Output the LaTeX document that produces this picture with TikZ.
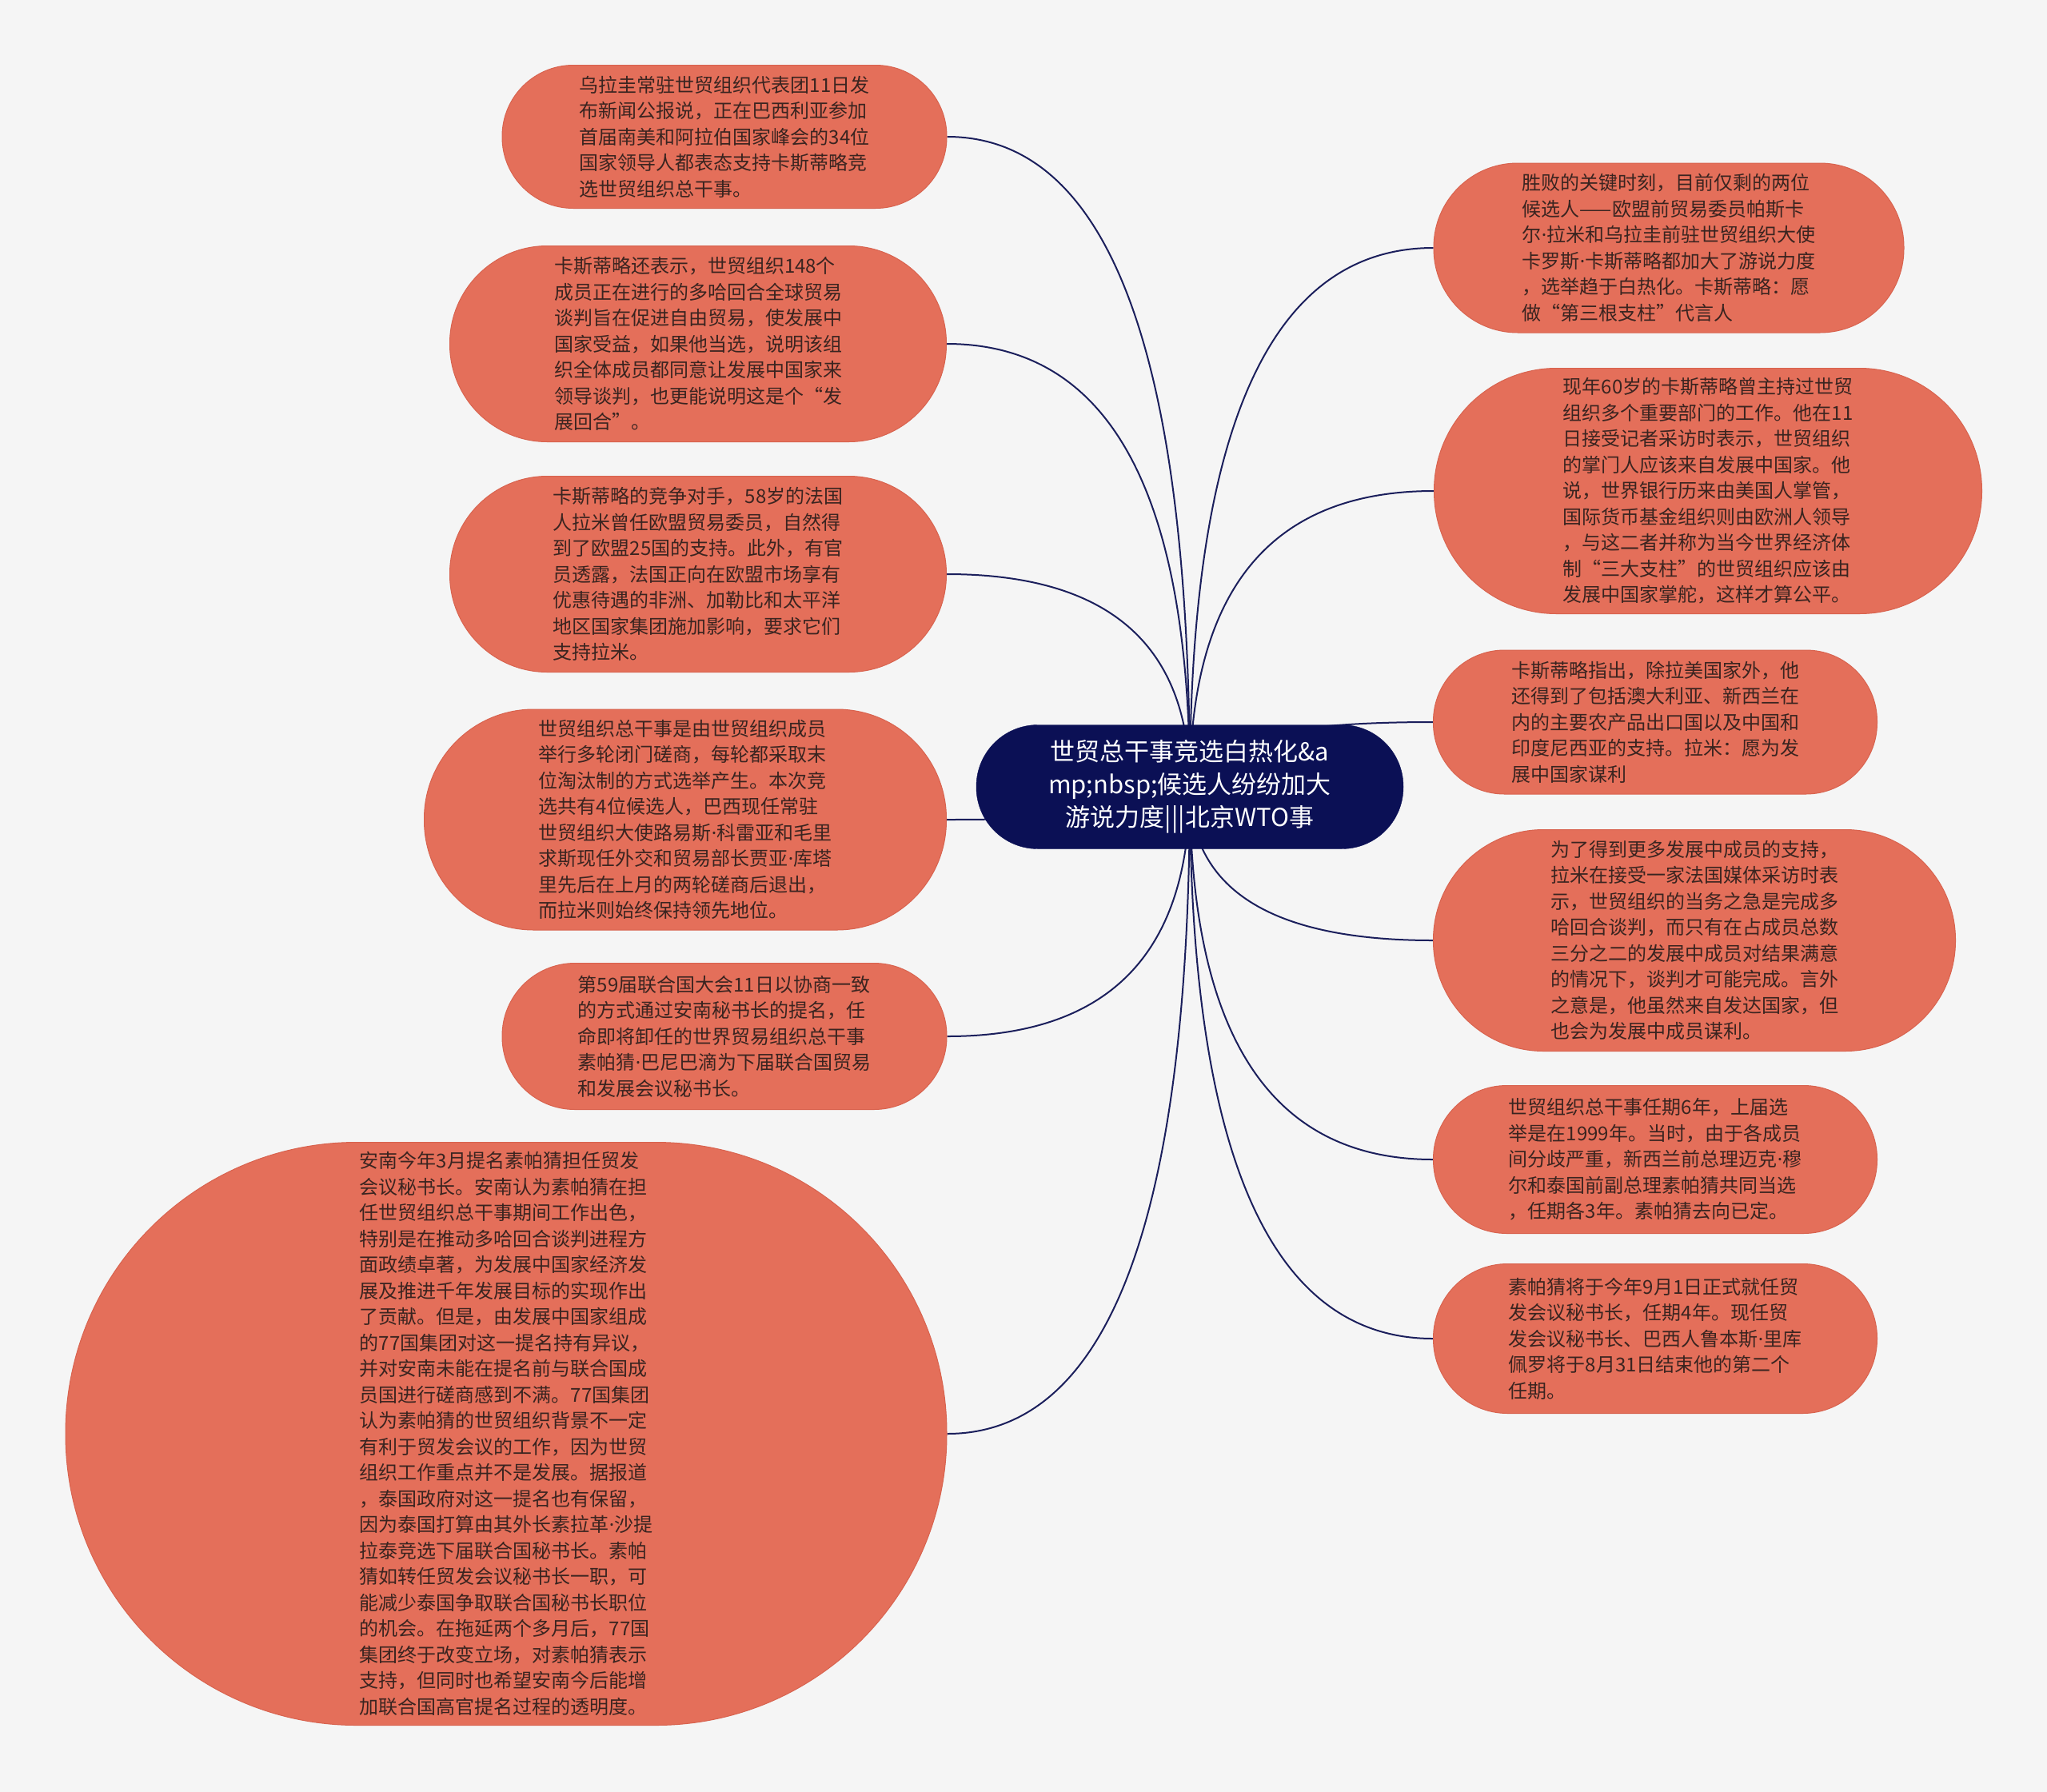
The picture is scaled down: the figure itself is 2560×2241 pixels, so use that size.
\documentclass[tikz,border=0pt]{standalone}
\usepackage{fontspec}
\newfontfamily\cjk{Noto Sans CJK SC}
\newfontfamily\latf{Noto Sans}
\newcommand\mdot{{\latf ·}}
\usetikzlibrary{calc}
\definecolor{bgcol}{HTML}{F5F5F5}
\definecolor{leaffill}{HTML}{E46F5A}
\definecolor{leafline}{HTML}{D8634F}
\definecolor{leaftext}{HTML}{3A2420}
\definecolor{hubfill}{HTML}{0B1055}
\definecolor{linkcol}{HTML}{1B1F5C}
\pgfdeclarelayer{edges}
\pgfsetlayers{edges,main}
\begin{document}
\begin{tikzpicture}[x=1pt,y=-1pt,
  leaf/.style={fill=leaffill, draw=leafline, line width=1pt, text=leaftext, align=left, inner sep=0pt, font=\cjk\fontsize{24}{32.5}\selectfont},
  hub/.style={fill=hubfill, draw=hubfill, text=white, align=center, inner sep=0pt, minimum width=534, minimum height=155, rounded corners=77, font=\cjk\fontsize{31}{41}\selectfont},
  link/.style={draw=linkcol, line width=2pt}]
\begin{pgfonlayer}{edges}
\fill[bgcol] (0,0) rectangle (2560,2241);
\end{pgfonlayer}
\node[hub] (hub) at (1488,984) {世贸总干事竞选白热化\&a\\mp;nbsp;候选人纷纷加大\\游说力度|||北京WTO事};
% left side
\node[leaf, minimum width=556, minimum height=179, rounded corners=89] (l1) at (906,171) {乌拉圭常驻世贸组织代表团11日发\\布新闻公报说，正在巴西利亚参加\\首届南美和阿拉伯国家峰会的34位\\国家领导人都表态支持卡斯蒂略竞\\选世贸组织总干事。};
\node[leaf, minimum width=621, minimum height=245, rounded corners=122] (l2) at (873,430) {卡斯蒂略还表示，世贸组织148个\\成员正在进行的多哈回合全球贸易\\谈判旨在促进自由贸易，使发展中\\国家受益，如果他当选，说明该组\\织全体成员都同意让发展中国家来\\领导谈判，也更能说明这是个“发\\展回合”。};
\node[leaf, minimum width=621, minimum height=245, rounded corners=122] (l3) at (873,718) {卡斯蒂略的竞争对手，58岁的法国\\人拉米曾任欧盟贸易委员，自然得\\到了欧盟25国的支持。此外，有官\\员透露，法国正向在欧盟市场享有\\优惠待遇的非洲、加勒比和太平洋\\地区国家集团施加影响，要求它们\\支持拉米。};
\node[leaf, minimum width=653, minimum height=276, rounded corners=137] (l4) at (857,1025) {世贸组织总干事是由世贸组织成员\\举行多轮闭门磋商，每轮都采取末\\位淘汰制的方式选举产生。本次竞\\选共有4位候选人，巴西现任常驻\\世贸组织大使路易斯\mdot 科雷亚和毛里\\求斯现任外交和贸易部长贾亚\mdot 库塔\\里先后在上月的两轮磋商后退出，\\而拉米则始终保持领先地位。};
\node[leaf, minimum width=556, minimum height=183, rounded corners=91] (l5) at (906,1296) {第59届联合国大会11日以协商一致\\的方式通过安南秘书长的提名，任\\命即将卸任的世界贸易组织总干事\\素帕猜\mdot 巴尼巴滴为下届联合国贸易\\和发展会议秘书长。};
\node[leaf, minimum width=1102, minimum height=729, rounded corners=364] (l6) at (633,1793) {安南今年3月提名素帕猜担任贸发\\会议秘书长。安南认为素帕猜在担\\任世贸组织总干事期间工作出色，\\特别是在推动多哈回合谈判进程方\\面政绩卓著，为发展中国家经济发\\展及推进千年发展目标的实现作出\\了贡献。但是，由发展中国家组成\\的77国集团对这一提名持有异议，\\并对安南未能在提名前与联合国成\\员国进行磋商感到不满。77国集团\\认为素帕猜的世贸组织背景不一定\\有利于贸发会议的工作，因为世贸\\组织工作重点并不是发展。据报道\\，泰国政府对这一提名也有保留，\\因为泰国打算由其外长素拉革\mdot 沙提\\拉泰竞选下届联合国秘书长。素帕\\猜如转任贸发会议秘书长一职，可\\能减少泰国争取联合国秘书长职位\\的机会。在拖延两个多月后，77国\\集团终于改变立场，对素帕猜表示\\支持，但同时也希望安南今后能增\\加联合国高官提名过程的透明度。};
% right side
\node[leaf, minimum width=588, minimum height=212, rounded corners=105] (r1) at (2087,310) {胜败的关键时刻，目前仅剩的两位\\候选人——欧盟前贸易委员帕斯卡\\尔\mdot 拉米和乌拉圭前驻世贸组织大使\\卡罗斯\mdot 卡斯蒂略都加大了游说力度\\，选举趋于白热化。卡斯蒂略：愿\\做“第三根支柱”代言人};
\node[leaf, minimum width=685, minimum height=307, rounded corners=153] (r2) at (2136,614) {现年60岁的卡斯蒂略曾主持过世贸\\组织多个重要部门的工作。他在11\\日接受记者采访时表示，世贸组织\\的掌门人应该来自发展中国家。他\\说，世界银行历来由美国人掌管，\\国际货币基金组织则由欧洲人领导\\，与这二者并称为当今世界经济体\\制“三大支柱”的世贸组织应该由\\发展中国家掌舵，这样才算公平。};
\node[leaf, minimum width=555, minimum height=180, rounded corners=89] (r3) at (2070,903) {卡斯蒂略指出，除拉美国家外，他\\还得到了包括澳大利亚、新西兰在\\内的主要农产品出口国以及中国和\\印度尼西亚的支持。拉米：愿为发\\展中国家谋利};
\node[leaf, minimum width=653, minimum height=277, rounded corners=138] (r4) at (2119,1176) {为了得到更多发展中成员的支持，\\拉米在接受一家法国媒体采访时表\\示，世贸组织的当务之急是完成多\\哈回合谈判，而只有在占成员总数\\三分之二的发展中成员对结果满意\\的情况下，谈判才可能完成。言外\\之意是，他虽然来自发达国家，但\\也会为发展中成员谋利。};
\node[leaf, minimum width=555, minimum height=185, rounded corners=92] (r5) at (2070,1450) {世贸组织总干事任期6年，上届选\\举是在1999年。当时，由于各成员\\间分歧严重，新西兰前总理迈克\mdot 穆\\尔和泰国前副总理素帕猜共同当选\\，任期各3年。素帕猜去向已定。};
\node[leaf, minimum width=555, minimum height=187, rounded corners=93] (r6) at (2070,1674) {素帕猜将于今年9月1日正式就任贸\\发会议秘书长，任期4年。现任贸\\发会议秘书长、巴西人鲁本斯\mdot 里库\\佩罗将于8月31日结束他的第二个\\任期。};
% connectors behind the nodes
\begin{pgfonlayer}{edges}
\foreach \i in {1,...,6} {
  \draw[link] (hub.center) .. controls ($(hub.center)!0.667!(hub.center |- l\i.east)$) and ($(l\i.east)!0.667!(hub.center |- l\i.east)$) .. (l\i.east);
  \draw[link] (hub.center) .. controls ($(hub.center)!0.667!(hub.center |- r\i.west)$) and ($(r\i.west)!0.667!(hub.center |- r\i.west)$) .. (r\i.west);
}
\end{pgfonlayer}
\end{tikzpicture}
\end{document}
